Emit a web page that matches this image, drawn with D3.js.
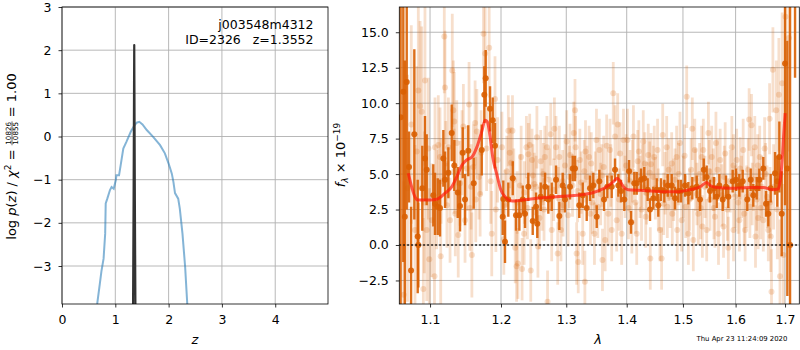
<!DOCTYPE html>
<html>
<head>
<meta charset="utf-8">
<script src="https://cdnjs.cloudflare.com/ajax/libs/d3/7.8.5/d3.min.js"></script>
<style>
body{margin:0;background:#fff}
text{font-family:"DejaVu Sans",sans-serif;fill:#000}
</style>
</head>
<body>
<svg id="chart" width="800" height="350"></svg>
<script>
// ---- p(z) panel ----
zGrid = [0.66,0.71,0.74,0.78,0.81,0.82,0.85,0.90,0.93,0.97,1.01,1.02,1.07,1.10,1.15,1.21,1.29,1.34,1.40,1.45,
	1.51,1.59,1.71,1.84,1.93,2.00,2.03,2.06,2.09,2.12,2.18,2.21,2.26,2.31,2.35];
logPz = [-3.88,-3.41,-3.12,-2.83,-2.25,-1.55,-1.44,-1.24,-1.17,-1.21,-1.01,-0.90,-0.90,-0.67,-0.28,-0.12,0.11,0.22,0.32,0.34,
	0.28,0.15,-0.01,-0.20,-0.39,-0.63,-0.74,-0.86,-1.05,-1.31,-1.44,-1.67,-2.25,-3.02,-3.88];
zSpike = [1.333,1.343,1.352,1.3552,1.358,1.367,1.377];
logSpike = [-3.95,-1.5,1.3,2.12,1.3,-1.5,-3.95];
zTicks = [0,1,2,3,4];
pzTicks = [-3,-2,-1,0,1,2,3];

// ---- spectrum panel ----
darkWave = [1.0645,1.069,1.072,1.0747,1.079,1.0835,1.0843,1.0896,1.0932,1.0955,
	1.1044,1.1067,1.1104,1.1135,1.1181,1.1204,1.125,1.1296,1.1332,1.138,
	1.1412,1.145,1.1482,1.1528,1.1605,1.172,1.1757,1.1777,1.184,1.1879,
	1.1912,1.2025,1.2034,1.2059,1.2108,1.2174,1.2223,1.2273,1.2324,1.2359,
	1.2409,1.2476,1.2527,1.2546,1.2599,1.2666,1.2717,1.277,1.2838,1.289,
	1.2943,1.298,1.306,1.3103,1.314,1.3209,1.3265,1.333,1.3384,1.3438,
	1.3495,1.3538,1.3616,1.3671,1.3745,1.3801,1.3857,1.3903,1.3959,1.404,
	1.4074,1.4131,1.4173,1.4248,1.4305,1.4365,1.4406,1.4464,1.4525,1.4553,
	1.4601,1.4661,1.4722,1.4794,1.4854,1.4915,1.4964,1.5038,1.5099,1.5173,
	1.5255,1.5317,1.5387,1.5443,1.5506,1.5582,1.5634,1.5684,1.5749,1.5813,
	1.5858,1.5943,1.6008,1.6073,1.614,1.6231,1.6299,1.6351,1.6419,1.6472,
	1.6553,1.6608,1.6655,1.6704,1.6793,1.684,1.6882,1.6931,1.70,1.7048,
	1.7105,1.721,1.0610,1.0665];
darkFlux = [10.8,11.5,5.5,-1.8,7.8,0.6,0.0,4.0,6.1,5.3,
	3.5,2.9,2.7,2.6,6.1,4.6,5.1,7.9,5.6,3.7,
	2.75,6.5,3.2,6.65,4.35,6.7,10.6,11.75,9.6,8.8,
	7.0,2.0,3.25,0.23,3.2,4.7,2.1,2.1,3.2,2.2,
	4.1,1.7,2.7,1.5,3.4,4.1,3.2,3.4,4.6,2.05,
	4.2,3.2,4.1,5.4,5.4,2.8,3.5,2.6,4.0,4.2,
	2.0,4.5,3.2,4.1,4.1,5.3,4.2,3.8,3.2,5.2,
	1.6,4.35,4.35,4.6,4.7,3.9,2.5,3.3,3.9,2.8,
	3.9,3.8,4.2,4.2,3.3,3.8,3.8,4.2,3.65,4.0,
	4.1,3.2,5.3,4.8,3.8,4.0,3.4,4.2,3.2,4.1,
	3.4,4.5,4.6,4.2,4.5,3.2,4.6,3.5,4.0,4.6,
	5.4,2.9,2.2,4.0,5.05,4.5,6.2,2.2,12.8,5.4,
	0.0,22,9.0,2.0];
darkErr = [12,9,2.5,4.5,6,4,3,3,3,2.5,
	2.2,2.2,2.0,2.0,2.0,2.0,1.8,2.0,1.8,1.8,
	1.8,1.8,1.8,1.8,1.8,1.8,2.0,2.0,1.6,1.6,
	1.6,1.3,1.3,1.5,1.2,1.2,1.1,1.1,1.0,1.0,
	1.0,1.0,1.0,1.0,1.0,1.0,1.0,1.0,1.0,1.0,
	0.9,0.9,0.9,0.9,0.9,0.9,0.9,0.9,0.9,0.9,
	0.8,0.8,0.8,0.8,0.8,0.8,0.8,0.8,0.8,0.8,
	0.8,0.8,0.8,0.8,0.8,0.8,0.8,0.8,0.8,0.8,
	0.8,0.8,0.8,0.8,0.8,0.8,0.8,0.8,0.8,0.8,
	0.8,0.8,0.8,0.8,0.8,0.8,0.8,0.8,0.8,0.8,
	0.8,0.8,0.8,0.8,0.8,0.8,0.8,0.8,0.8,0.8,
	0.8,0.9,0.9,1.0,1.5,1.8,2.5,3,10,9,
	18,10.2,14,11];

lightWave = [1.065,1.070,1.075,1.0799,1.0822,1.0843,1.0866,1.0888,1.091,1.0923,1.0932,1.0955,1.0977,1.099,1.1023,
	1.106,1.1067,1.109,1.1112,1.1135,1.1145,1.1194,1.1204,1.1215,1.125,1.1273,1.1304,1.1319,1.1332,1.1346,
	1.1366,1.1387,1.1412,1.1459,1.1482,1.1505,1.1539,1.1568,1.1579,1.1625,1.1635,1.165,1.1697,1.1711,1.1745,
	1.1769,1.1827,1.1865,1.1912,1.1925,
	1.2014,1.2042,1.2108,1.2129,1.215,1.217,1.219,1.2211,1.2232,1.2252,1.2282,1.2314,1.2345,1.235,1.238,
	1.2409,1.243,1.2446,1.2466,1.25,1.2527,1.2556,1.2599,1.262,1.265,1.2662,1.2695,1.2705,1.277,1.28,
	1.2812,1.2838,1.2864,1.289,1.2916,1.2943,1.295,1.3007,1.305,1.306,1.314,1.315,1.3166,1.318,1.3192,
	1.3218,1.3265,1.329,1.33,1.3335,1.3369,1.3404,1.342,1.3457,1.3512,1.3538,1.358,1.359,1.3635,
	1.3688,1.3716,1.3745,1.3771,1.3801,1.3829,1.3846,1.3888,1.3914,1.3945,1.3972,1.4013,1.4057,1.4088,1.4116,
	1.4173,1.419,1.4232,1.4257,1.4287,1.4315,1.4346,1.4375,1.4411,1.4423,1.4464,1.4481,1.4553,1.4582,1.4612,
	1.4632,1.4675,1.4703,1.4715,1.4764,1.4794,1.4805,1.4854,1.4884,1.4895,1.4945,1.4976,1.5007,1.5069,1.5099,
	1.5122,1.5173,1.5191,1.5219,1.5235,1.5284,1.533,1.5347,1.5361,
	1.5379,1.5411,1.5443,1.5475,1.5506,1.5538,1.5568,1.56,1.5619,1.5668,1.57,1.5732,1.5765,1.5797,1.5858,
	1.5895,1.5926,1.5959,1.599,1.6021,1.6073,1.6118,1.615,1.6188,1.622,1.6268,1.6283,1.6315,1.6351,1.6381,
	1.6395,1.6419,1.6449,1.648,1.6519,1.6553,1.658,1.6629,1.6655,1.6681,1.6704,1.672,1.6749,1.6763,1.6818,
	1.684,1.6872,1.6895,1.6941,1.6965,1.701,1.708,
	1.206,1.2085,1.224,1.23,1.2395,1.248,1.254,1.258,1.264,1.273,1.2755,1.2875,1.298,1.303,1.31,
	1.312,1.324,1.331,1.339,1.347,1.349,1.356,1.361,1.366,1.373,1.387,1.399,1.403,1.41,1.415,
	1.421,1.427,1.433,1.44,1.45,1.454,1.465,1.474,1.483,1.492,1.503,1.505,1.515,1.526,1.531,
	1.549,1.558,1.565,1.578,1.584,1.596,1.605,1.609,1.617,1.625,1.633,1.644,1.65,1.66,1.669,
	1.115,1.123,1.133,1.144,1.155,1.16,1.168,1.179,1.185,1.195];
lightFlux = [-3.5,4.0,8.5,1.05,6.6,10.9,9.8,9.4,-3.1,3.0,11.6,1.05,6.8,-1.0,1.75,
	-2.2,6.9,3.2,7.05,6.2,-0.8,14.7,11.1,5.75,6.9,1.75,12.3,9.5,8.7,2.2,
	7.2,0.7,4.35,8.35,1.75,5.4,9.9,4.1,-0.7,8.6,3.2,8.0,3.6,6.5,14.9,
	13.5,13.9,0.8,10.3,2.5,
	6.9,0.4,8.05,6.5,5.8,8.05,4.6,-0.2,-1.5,-1.3,4.2,-1.7,0.8,3.7,6.9,
	6.4,7.05,-1.8,6.0,4.3,4.1,-0.1,5.9,3.2,2.5,6.2,6.9,-4.0,1.05,3.9,
	8.2,6.9,-0.6,6.2,1.05,4.5,2.8,7.3,4.8,6.35,9.5,6.9,-0.6,3.8,-1.2,
	6.0,0.8,5.2,-2.6,4.8,6.2,5.75,3.0,0.8,2.7,6.7,4.9,-1.05,0.35,
	2.2,6.7,1.05,10.7,7.65,1.75,8.5,6.45,0.8,7.4,4.1,7.4,4.5,1.6,7.65,
	0.8,5.9,4.1,2.5,7.3,5.75,3.65,6.35,-0.95,5.7,4.8,6.2,3.2,1.05,-0.95,
	7.75,4.35,6.9,2.7,3.4,5.75,2.2,4.6,6.2,1.05,7.2,1.75,4.1,10.45,0.8,
	3.2,8.2,0.35,6.7,4.6,2.2,2.6,6.2,1.3,
	6.7,4.1,1.05,7.9,3.2,6.2,4.6,2.0,7.2,0.8,6.0,3.5,1.3,6.45,-0.2,
	4.5,6.9,1.05,3.4,6.0,1.75,4.1,6.7,1.05,3.4,8.85,2.7,8.45,4.6,6.9,
	0.6,3.2,1.9,6.2,4.1,1.75,6.8,3.4,1.05,8.9,0.6,-3.3,12.35,4.1,9.5,
	2.5,10.6,-2.2,11.4,-0.7,16.1,14.6,
	2.8,5.2,3.0,6.2,2.6,4.9,7.6,1.9,5.0,4.6,7.8,3.3,5.6,2.1,4.2,
	7.9,4.4,6.6,2.2,4.4,7.4,3.6,5.5,7.0,4.9,3.2,5.6,2.6,5.2,3.0,
	6.6,4.9,2.0,5.1,4.0,6.7,2.9,5.3,3.9,5.0,6.3,2.7,5.3,3.6,5.0,
	5.2,2.6,5.3,4.8,2.5,5.6,3.0,5.4,2.2,5.3,3.6,5.6,2.6,5.0,3.0,
	4.5,2.8,5.2,6.5,2.6,5.5,4.8,6.8,4.5,6.0];
lightErr = [8,8,7,6,6,7,6,6,5,5,6,5,5,5,4,
	3.5,3.5,3.5,3.5,3.5,3.5,4,4,3,3.5,3,4,3.5,3.5,3,
	3,3,3,3,3,3,3,3,3,3,3,3,3,3,3.5,
	3.5,3.5,3,3,3,
	2.5,2.5,2.5,2.5,2.5,2.5,2.2,2.5,2.5,2.5,2.2,2.2,2.2,2.2,2.2,
	2.2,2.2,2.2,2.2,2.2,2.2,2.2,2.2,2.2,2.2,2.2,2.2,2.2,2.2,2.2,
	2.2,2.2,2.2,2.2,2.2,2.2,2.2,2.2,2.2,2.2,2.2,2.2,2.2,2.2,2.2,
	2.2,2.2,2.2,2.2,2.2,2.2,2.2,2.2,2.2,2.2,2.2,2.2,2.2,2.2,
	2.2,2.2,2.2,2.2,2.2,2.2,2.2,2.2,2.2,2.2,2.2,2.2,2.2,2.2,2.2,
	2.2,2.2,2.2,2.2,2.2,2.2,2.2,2.2,2.2,2.2,2.2,2.2,2.2,2.2,2.2,
	2.2,2.2,2.2,2.2,2.2,2.2,2.2,2.2,2.2,2.2,2.2,2.2,2.2,2.2,2.2,
	2.2,2.2,2.2,2.2,2.2,2.2,2.2,2.2,2.2,
	2.2,2.2,2.2,2.2,2.2,2.2,2.2,2.2,2.2,2.2,2.2,2.2,2.2,2.2,2.2,
	2.2,2.2,2.2,2.2,2.2,2.2,2.2,2.2,2.2,2.2,2.2,2.2,2.2,2.2,2.2,
	2.2,2.2,2.2,2.2,2.2,2.2,2.2,2.2,2.2,2.5,2.5,3,3,3,3.5,
	3.5,4,4,5,5,8,8,
	2.5,2.5,2.2,2.2,2.2,2.2,2.2,2.2,2.2,2.2,2.2,2.2,2.2,2.2,2.2,
	2.2,2.2,2.2,2.2,2.2,2.2,2.2,2.2,2.2,2.2,2.2,2.2,2.2,2.2,2.2,
	2.2,2.2,2.2,2.2,2.2,2.2,2.2,2.2,2.2,2.2,2.2,2.2,2.2,2.2,2.2,
	2.2,2.2,2.2,2.2,2.2,2.2,2.2,2.2,2.2,2.2,2.2,2.2,2.2,2.2,2.5,
	3,3,3,3,3,3,3,3,3,3];

modelWave = [1.0711,1.0799,1.0829,1.10,1.109,1.1204,1.1296,1.1366,1.1436,1.1505,
	1.1579,1.165,1.172,1.1769,1.18,1.184,1.1879,1.1935,1.1997,1.2059,
	1.217,1.2314,1.2536,1.2838,1.3166,1.3438,1.3661,1.3771,1.3838,1.387,
	1.3945,1.4021,1.4287,1.4641,1.4884,1.5122,1.5317,1.5443,1.5506,1.5634,
	1.5895,1.6283,1.6553,1.6749,1.6854,1.6903,1.6941,1.6975,1.7003];
modelFlux = [5.06,3.39,3.17,3.17,3.22,3.65,4.1,4.8,5.6,6.0,
	6.2,6.9,8.0,8.8,8.7,7.65,6.2,5.05,3.9,3.4,
	3.1,3.17,3.3,3.4,3.5,3.7,4.1,4.45,4.7,4.6,
	4.1,3.9,3.85,3.75,3.75,3.9,4.1,4.4,4.2,4.05,
	4.0,4.05,4.05,3.9,3.95,4.6,6.0,7.9,9.3];
waveTicks = [1.1,1.2,1.3,1.4,1.5,1.6,1.7];
fluxTicks = [-2.5,0,2.5,5,7.5,10,12.5,15];

orange = '#d95f02';

svg = d3.select('#chart');
svg.append('rect').attr('width',800).attr('height',350).attr('fill','#fff');

function drawGrid(g, xs, ys, xt, yt, box){
	g.selectAll('line.gx').data(xt).join('line').attr('class','gx')
		.attr('x1',d=>xs(d)).attr('x2',d=>xs(d)).attr('y1',box.y0).attr('y2',box.y1);
	g.selectAll('line.gy').data(yt).join('line').attr('class','gy')
		.attr('y1',d=>ys(d)).attr('y2',d=>ys(d)).attr('x1',box.x0).attr('x2',box.x1);
	g.selectAll('line').attr('stroke','#b0b0b0').attr('stroke-width',0.9);
}

function drawAxes(g, xs, ys, xt, yt, box, xfmt, yfmt){
	let ax = g.append('g').attr('transform','translate(0,'+box.y1+')')
		.call(d3.axisBottom(xs).tickValues(xt).tickFormat(xfmt).tickSize(3.5).tickPadding(8).tickSizeOuter(0));
	let ay = g.append('g').attr('transform','translate('+box.x0+',0)')
		.call(d3.axisLeft(ys).tickValues(yt).tickFormat(yfmt).tickSize(3.5).tickPadding(7).tickSizeOuter(0));
	[ax,ay].forEach(function(a){
		a.select('.domain').remove();
		a.selectAll('text').attr('font-size',12.5).attr('font-family','DejaVu Sans').attr('fill','#000');
		a.selectAll('line').attr('stroke','#000').attr('stroke-width',0.8);
	});
	g.append('rect').attr('x',box.x0).attr('y',box.y0).attr('width',box.x1-box.x0).attr('height',box.y1-box.y0)
		.attr('fill','none').attr('stroke','#000').attr('stroke-width',0.8);
}

// ---------- left panel ----------
boxL = {x0:62, x1:328, y0:7, y1:304};
xz = d3.scaleLinear().domain([0,4.99]).range([boxL.x0,boxL.x1]);
yz = d3.scaleLinear().domain([-3.88,3.0]).range([boxL.y1,boxL.y0]);

svg.append('clipPath').attr('id','clipL').append('rect')
	.attr('x',boxL.x0).attr('y',boxL.y0).attr('width',boxL.x1-boxL.x0).attr('height',boxL.y1-boxL.y0);

let gL = svg.append('g');
drawGrid(gL.append('g'), xz, yz, zTicks, pzTicks, boxL);

let dL = gL.append('g').attr('clip-path','url(#clipL)');
let lineZ = d3.line().x(d=>xz(d[0])).y(d=>yz(d[1]));
dL.append('path').datum(d3.zip(zGrid,logPz)).attr('d',lineZ)
	.attr('fill','none').attr('stroke','#1f77b4').attr('stroke-opacity',0.55).attr('stroke-width',2);
dL.append('path').datum(d3.zip(zSpike,logSpike)).attr('d',lineZ)
	.attr('fill','none').attr('stroke','#333').attr('stroke-width',2.2).attr('stroke-linejoin','round');

drawAxes(gL, xz, yz, zTicks, pzTicks, boxL, d3.format('d'), d3.format('d'));

gL.append('text').attr('x',313.5).attr('y',29).attr('text-anchor','end').attr('font-size',12.5).text('j003548m4312');
gL.append('text').attr('x',313.5).attr('y',44).attr('text-anchor','end').attr('font-size',12.5)
	.style('white-space','pre').text('ID=2326   z=1.3552');

gL.append('text').attr('x',195).attr('y',344).attr('text-anchor','middle').attr('font-size',13)
	.attr('font-style','italic').text('z');

// y label: log p(z) / chi^2 = 10826/10855 = 1.00
let yLab = svg.append('g');
let t1 = yLab.append('text').attr('font-size',13);
t1.append('tspan').text('log ');
t1.append('tspan').attr('font-style','italic').text('p');
t1.append('tspan').text('(');
t1.append('tspan').attr('font-style','italic').text('z');
t1.append('tspan').style('white-space','pre').text(') / ');
t1.append('tspan').attr('font-style','italic').text('χ');
t1.append('tspan').attr('font-size',9).attr('dy',-5).text('2');
t1.append('tspan').attr('dy',5).style('white-space','pre').text(' = ');
let w1 = t1.node().getComputedTextLength();
let num = yLab.append('text').attr('font-size',7.2).attr('text-anchor','middle').attr('y',-5).text('10826');
let den = yLab.append('text').attr('font-size',7.2).attr('text-anchor','middle').attr('y',1.5).text('10855');
let fw = Math.max(num.node().getComputedTextLength(), den.node().getComputedTextLength()) + 1;
num.attr('x',w1+fw/2);
den.attr('x',w1+fw/2);
yLab.append('line').attr('x1',w1).attr('x2',w1+fw).attr('y1',-4).attr('y2',-4).attr('stroke','#000').attr('stroke-width',0.6);
let t2 = yLab.append('text').attr('font-size',13).attr('x',w1+fw).style('white-space','pre').text(' = 1.00');
let wTot = w1 + fw + t2.node().getComputedTextLength();
yLab.attr('transform','translate(16,'+(156.5)+') rotate(-90) translate('+(-wTot/2)+',0)');

// ---------- right panel ----------
boxR = {x0:399.3, x1:799.3, y0:7, y1:304};
xl = d3.scaleLog().domain([1.0593,1.730]).range([boxR.x0,boxR.x1]);
yf = d3.scaleLinear().domain([-4.16,16.78]).range([boxR.y1,boxR.y0]);

svg.append('clipPath').attr('id','clipR').append('rect')
	.attr('x',boxR.x0).attr('y',boxR.y0).attr('width',boxR.x1-boxR.x0).attr('height',boxR.y1-boxR.y0);

let gR = svg.append('g');
drawGrid(gR.append('g'), xl, yf, waveTicks, fluxTicks, boxR);

let dR = gR.append('g').attr('clip-path','url(#clipR)');

function errorbars(g, wave, flux, err, op, bw, r){
	let pts = d3.range(wave.length).map(i=>({w:wave[i], f:flux[i], e:err[i]}));
	let gg = g.append('g');
	gg.selectAll('line').data(pts).join('line')
		.attr('x1',d=>xl(d.w)).attr('x2',d=>xl(d.w))
		.attr('y1',d=>yf(d.f-d.e)).attr('y2',d=>yf(d.f+d.e))
		.attr('stroke',orange).attr('stroke-opacity',op).attr('stroke-width',bw);
	gg.selectAll('circle').data(pts).join('circle')
		.attr('cx',d=>xl(d.w)).attr('cy',d=>yf(d.f)).attr('r',r)
		.attr('fill',orange).attr('fill-opacity',op);
}
errorbars(dR, lightWave, lightFlux, lightErr, 0.2, 2.8, 3);
errorbars(dR, darkWave, darkFlux, darkErr, 0.9, 2.4, 3);

dR.append('path').datum(d3.zip(modelWave,modelFlux))
	.attr('d',d3.line().x(d=>xl(d[0])).y(d=>yf(d[1])).curve(d3.curveMonotoneX))
	.attr('fill','none').attr('stroke','#ff1a0a').attr('stroke-opacity',0.7).attr('stroke-width',3)
	.attr('stroke-linejoin','round');

dR.append('line').attr('x1',boxR.x0).attr('x2',boxR.x1).attr('y1',yf(0)).attr('y2',yf(0))
	.attr('stroke','#000').attr('stroke-width',1.5).attr('stroke-dasharray','1.5,2.5');

drawAxes(gR, xl, yf, waveTicks, fluxTicks, boxR, d3.format('.1f'), d3.format('.1f'));

gR.append('text').attr('x',598).attr('y',344).attr('text-anchor','middle').attr('font-size',13)
	.attr('font-style','italic').text('λ');

let fLab = svg.append('text').attr('font-size',13).attr('text-anchor','middle')
	.attr('transform','translate(345,155) rotate(-90)');
fLab.append('tspan').attr('font-style','italic').text('f');
fLab.append('tspan').attr('font-size',9).attr('font-style','italic').attr('dy',3).text('λ');
fLab.append('tspan').attr('dy',-3).style('white-space','pre').text(' × 10');
fLab.append('tspan').attr('font-size',9).attr('dy',-5).text('−19');

svg.append('text').attr('x',696.5).attr('y',341).attr('font-size',6.9).text('Thu Apr 23 11:24:09 2020');
</script>
</body>
</html>
